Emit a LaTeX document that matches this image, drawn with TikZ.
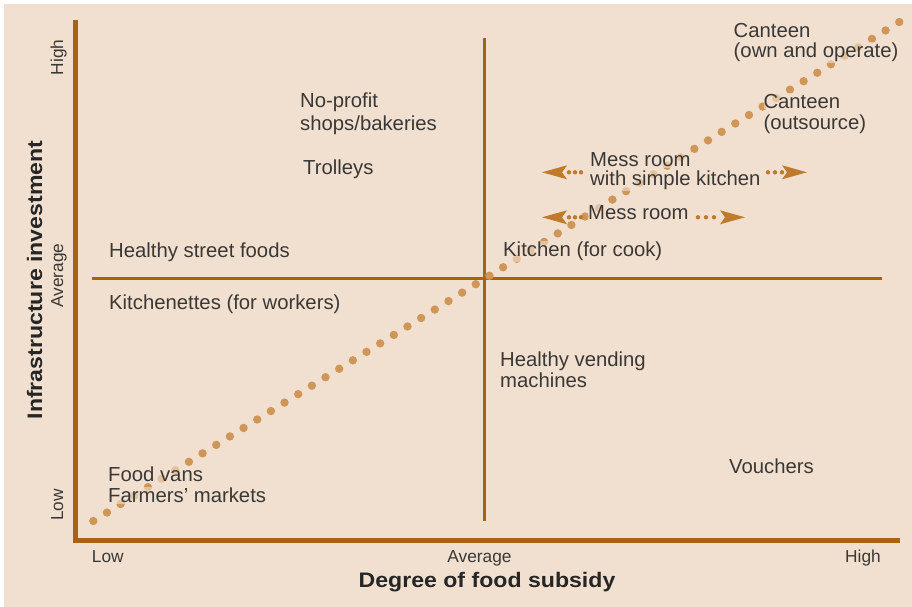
\documentclass[tikz,border=0pt]{standalone}
\usepackage{fontspec}
\setmainfont{Liberation Sans}
\usepackage{graphicx}
\definecolor{bg}{RGB}{241,224,207}
\definecolor{axiscol}{RGB}{168,98,18}
\definecolor{dotcol}{RGB}{208,150,88}
\definecolor{txt}{RGB}{58,56,54}
\definecolor{arrcol}{RGB}{192,122,44}
\tikzset{
  lbl/.style={anchor=base west, inner xsep=0pt, inner ysep=1pt, fill=bg, fill opacity=0.6, text opacity=1, text=txt, font=\fontsize{20.3}{22}\selectfont},
  tick/.style={anchor=base, inner sep=0pt, text=txt, font=\fontsize{17.3}{19}\selectfont},
  ttl/.style={anchor=base, inner sep=0pt, text=black!85},
  axisline/.style={draw=axiscol, line width=5pt, line cap=butt, line join=miter},
  midline/.style={draw=axiscol, line width=2.6pt},
  adot/.style={fill=arrcol},
  ahead/.style={fill=arrcol}
}
\begin{document}
\begin{tikzpicture}[x=1pt,y=-1pt]
\useasboundingbox (0,0) rectangle (912,607);
\fill[white] (0,0) rectangle (912,607);
\fill[bg] (4,4) rectangle (912,607);
% axes
\coordinate (ytop) at (75.8,20);
\coordinate (origin) at (75.8,540);
\coordinate (xend) at (900,540);
\draw[axisline] (ytop) -- (origin) -- (xend);
% mid lines
\coordinate (vtop) at (484.7,38);
\coordinate (vbot) at (484.7,521);
\coordinate (hl) at (92,278.3);
\coordinate (hr) at (882,278.3);
\draw[midline] (vtop) -- (vbot);
\draw[midline] (hl) -- (hr);
% dotted diagonal
\foreach \i in {0,...,59} \fill[dotcol] ({93.3+\i*13.66},{521-\i*8.458}) circle (4.2pt);
% labels
\node[lbl] (c1a) at (733.5,37.3) {Canteen};
\node[lbl] (c1b) at (733.5,58) {(own and operate)};
\node[lbl] (c2a) at (763.3,108.3) {Canteen};
\node[lbl] (c2b) at (763.3,129) {(outsource)};
\node[lbl] (np1) at (300,108) {No-profit};
\node[lbl] (np2) at (300,130) {shops/bakeries};
\node[lbl] (trol) at (303,174) {Trolleys};
\node[lbl] (mk1) at (590,166.7) {Mess room};
\node[lbl] (mk2) at (590,185.5) {with simple kitchen};
\node[lbl] (mr) at (588,219.3) {Mess room};
\node[lbl] (hsf) at (109,257) {Healthy street foods};
\node[lbl] (kfc) at (503,256.7) {Kitchen (for cook)};
\node[lbl] (kfw) at (109,309) {Kitchenettes (for workers)};
\node[lbl] (hv1) at (500,366) {Healthy vending};
\node[lbl] (hv2) at (500,387) {machines};
\node[lbl] (vou) at (729,473) {Vouchers};
\node[lbl] (fv) at (108,481.7) {Food vans};
\node[lbl] (fm) at (108,502.7) {Farmers’ markets};
% arrows (upper)
\foreach \x in {569,575,581} \fill[adot] (\x,172.3) circle (2.2pt);
\fill[ahead] (542,172.3) -- (567,165.3) -- (562,172.3) -- (567,179.3) -- cycle;
\foreach \x in {768,775,782} \fill[adot] (\x,172.3) circle (2.2pt);
\fill[ahead] (807,172.3) -- (782,165.3) -- (787,172.3) -- (782,179.3) -- cycle;
% arrows (lower)
\foreach \x in {569,575,581} \fill[adot] (\x,217.3) circle (2.2pt);
\fill[ahead] (542,217.3) -- (567,210.3) -- (562,217.3) -- (567,224.3) -- cycle;
\foreach \x in {698,706,714} \fill[adot] (\x,217.3) circle (2.2pt);
\fill[ahead] (745,217.3) -- (720,210.3) -- (725,217.3) -- (720,224.3) -- cycle;
% tick labels
\node[tick, anchor=base west] (xlow) at (91.7,562) {Low};
\node[tick] (xavg) at (479.5,562) {Average};
\node[tick, anchor=base west] (xhigh) at (845,562) {High};
\node[tick, rotate=90] (yhigh) at (63,57.5) {High};
\node[tick, rotate=90] (yavg) at (63,275.5) {Average};
\node[tick, rotate=90] (ylow) at (63,505) {Low};
% axis titles
\node[ttl] (xt) at (487,587.3) {\scalebox{1.1}[1]{\fontsize{21}{24}\selectfont\bfseries Degree of food subsidy}};
\node[ttl, rotate=90] (yt) at (42,280) {\scalebox{1.1}[1]{\fontsize{21}{24}\selectfont\bfseries Infrastructure investment}};
\end{tikzpicture}
\end{document}
